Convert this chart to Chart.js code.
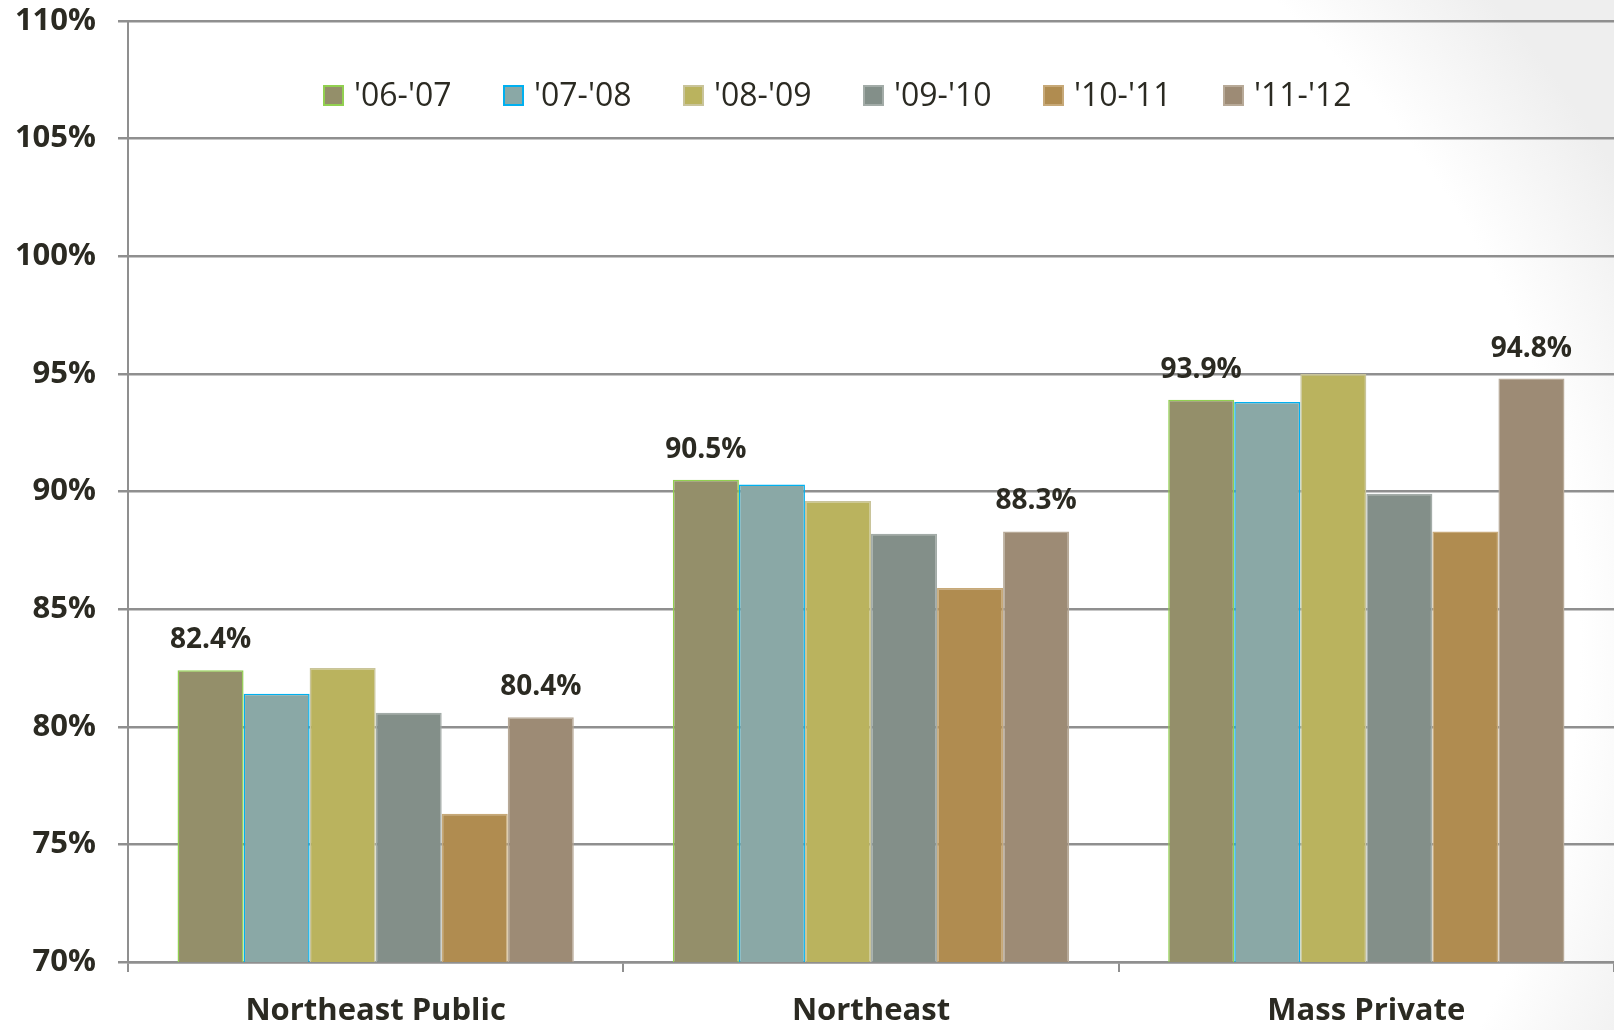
<!DOCTYPE html>
<html>
<head>
<meta charset="utf-8">
<script src="https://cdn.jsdelivr.net/npm/chart.js@4.4.1/dist/chart.umd.min.js"></script>
<style>
  html, body { margin: 0; padding: 0; }
  body {
    width: 1614px; height: 1030px; overflow: hidden;
    background: radial-gradient(ellipse 72% 100% at 36% 62%, #ffffff 86%, #eeeeee 100%);
  }
  #wrap { position: relative; width: 1614px; height: 1030px; }
</style>
</head>
<body>
<div id="wrap"><canvas id="rateChart" width="1614" height="1030"></canvas></div>
<script>
// categories and series (in %)
const categories = ['Northeast Public', 'Northeast', 'Mass Private'];
const seasons = ["'06-'07", "'07-'08", "'08-'09", "'09-'10", "'10-'11", "'11-'12"];
const s0607 = [82.4, 90.5, 93.9];
const s0708 = [81.4, 90.3, 93.8];
const s0809 = [82.5, 89.6, 95.0];
const s0910 = [80.6, 88.2, 89.9];
const s1011 = [76.3, 85.9, 88.3];
const s1112 = [80.4, 88.3, 94.8];
const yTicks = [70, 75, 80, 85, 90, 95, 100, 105, 110];

const fills   = ['#948f6a', '#8aa8a6', '#bab35e', '#838f89', '#b08c50', '#9d8b75'];
const borders = ['#92d050', '#00b0f0', '#c9c49a', '#a3aca8', '#c7a978', '#b8aa98'];
const labelled = [0, 5]; // series that carry value labels
const textColor = '#2b2a22';
const font = "'Open Sans', 'DejaVu Sans', sans-serif";

const allSeries = [s0607, s0708, s0809, s0910, s1011, s1112];

// value labels above first / last series
const valueLabels = {
    id: 'valueLabels',
    afterDatasetsDraw(chart) {
        const ctx = chart.ctx;
        ctx.save();
        ctx.font = `bold 28px ${font}`;
        ctx.fillStyle = textColor;
        ctx.textAlign = 'center';
        ctx.textBaseline = 'middle';
        labelled.forEach(di => {
            const meta = chart.getDatasetMeta(di);
            meta.data.forEach((bar, i) => {
                const v = chart.data.datasets[di].data[i];
                ctx.fillText(v.toFixed(1) + '%', bar.x, bar.y - 30);
            });
        });
        ctx.restore();
    }
};

// legend drawn inside the plot, like the original
const innerLegend = {
    id: 'innerLegend',
    afterDraw(chart) {
        const ctx = chart.ctx;
        const area = chart.chartArea;
        const y = 95;
        const step = 180;
        let x = area.left + 196;
        ctx.save();
        ctx.font = `32px ${font}`;
        ctx.textBaseline = 'middle';
        ctx.textAlign = 'left';
        chart.data.datasets.forEach(ds => {
            ctx.fillStyle = ds.backgroundColor;
            ctx.fillRect(x, y - 9, 19, 19);
            ctx.strokeStyle = ds.borderColor;
            ctx.lineWidth = 2;
            ctx.strokeRect(x, y - 9, 19, 19);
            ctx.fillStyle = textColor;
            ctx.fillText(ds.label, x + 30, y + 2);
            x += step;
        });
        ctx.restore();
    }
};

new Chart(document.getElementById('rateChart'), {
    type: 'bar',
    data: {
        labels: categories,
        datasets: allSeries.map((d, i) => ({
            label: seasons[i],
            data: d,
            backgroundColor: fills[i],
            borderColor: borders[i],
            borderWidth: 1.5,
            borderSkipped: 'bottom',
            categoryPercentage: 0.8,
            barPercentage: 1.0
        }))
    },
    options: {
        responsive: false,
        animation: false,
        devicePixelRatio: 1,
        layout: { padding: { top: 21, right: 0, left: 0, bottom: 0 } },
        scales: {
            x: {
                offset: true,
                grid: {
                    offset: true,
                    drawOnChartArea: false,
                    color: '#8f8f8f',
                    lineWidth: 2,
                    tickLength: 10
                },
                border: { color: '#8f8f8f', width: 2.5 },
                ticks: {
                    color: textColor,
                    font: { family: font, size: 31, weight: 'bold' },
                    padding: 21
                },
                afterFit(scale) {
                    scale.height = 68;
                    scale.paddingLeft = 0;
                    scale.paddingRight = 0;
                }
            },
            y: {
                min: 70,
                max: 110,
                afterBuildTicks(scale) { scale.ticks = yTicks.map(v => ({ value: v })); },
                grid: {
                    color: '#8f8f8f',
                    lineWidth: 2.5,
                    tickLength: 10
                },
                border: { color: '#8f8f8f', width: 2 },
                ticks: {
                    color: textColor,
                    font: { family: font, size: 31, weight: 'bold' },
                    padding: 22,
                    callback: v => v + '%'
                },
                afterFit(scale) {
                    scale.width = 128;
                    scale.paddingTop = 0;
                    scale.paddingBottom = 0;
                }
            }
        },
        plugins: {
            legend: { display: false },
            tooltip: { enabled: false }
        }
    },
    plugins: [valueLabels, innerLegend]
});
</script>
</body>
</html>
